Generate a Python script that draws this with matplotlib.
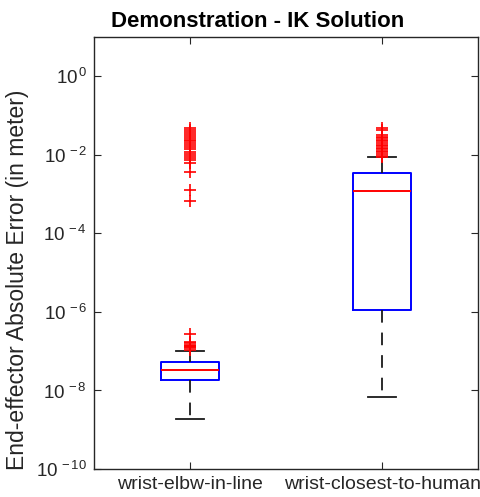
import matplotlib
matplotlib.use("Agg")
import matplotlib.pyplot as plt
from matplotlib.ticker import FixedLocator, FixedFormatter, NullLocator

plt.rcParams["font.family"] = ["Liberation Sans", "DejaVu Sans"]
plt.rcParams["mathtext.fontset"] = "custom"
plt.rcParams["mathtext.rm"] = "Liberation Sans"
plt.rcParams["mathtext.it"] = "Liberation Sans:italic"

# data (meters)
labels = ["wrist-elbw-in-line", "wrist-closest-to-human"]

elbw_stats = dict(whislo=1.9e-9, q1=1.8e-8, med=3.3e-8, q3=5.2e-8, whishi=1.02e-7)
elbw_fliers = [
    0.0479, 0.0417, 0.0372, 0.0339, 0.0302, 0.0269, 0.0240, 0.0219, 0.0200,
    0.0178, 0.0158, 0.0138, 0.0120, 0.0107, 0.00955, 0.00832, 0.00724,
    0.00603, 0.00363, 0.00126, 0.00066,
    2.75e-7, 1.70e-7, 1.58e-7, 1.48e-7, 1.38e-7, 1.32e-7, 1.26e-7, 1.20e-7, 1.10e-7,
]

human_stats = dict(whislo=6.8e-9, q1=1.12e-6, med=1.17e-3, q3=3.4e-3, whishi=8.7e-3)
human_fliers = [
    0.0479, 0.0427, 0.0316, 0.0288, 0.0263, 0.0240, 0.0219, 0.0200, 0.0182,
    0.0166, 0.0151, 0.0138, 0.0126, 0.0115, 0.0105, 0.0096, 0.0089,
]

yticks = [1e-10, 1e-8, 1e-6, 1e-4, 1e-2, 1e0]
ytick_exps = ["-10", "-8", "-6", "-4", "-2", "0"]

stats = []
for lab, st, fl in zip(labels, [elbw_stats, human_stats], [elbw_fliers, human_fliers]):
    d = dict(st)
    d["label"] = lab
    d["fliers"] = fl
    stats.append(d)

fig = plt.figure(figsize=(4.8, 4.97), dpi=100)
ax = fig.add_axes([0.196, 0.0563, 0.8, 0.8693])

ax.bxp(
    stats,
    positions=[1, 2],
    widths=0.3,
    showfliers=True,
    boxprops=dict(color="#0000ff", linewidth=1.4),
    medianprops=dict(color="#ff0000", linewidth=1.4),
    whiskerprops=dict(color="#1a1a1a", linewidth=1.3, linestyle=(0, (7, 5.5))),
    capprops=dict(color="#1a1a1a", linewidth=1.3),
    flierprops=dict(marker="+", markeredgecolor="#ff0000", markersize=9,
                    markeredgewidth=1.2, linestyle="none"),
)

ax.set_yscale("log")
ax.set_ylim(1e-10, 1e1)
ax.set_xlim(0.5, 2.5)
ax.yaxis.set_major_locator(FixedLocator(yticks))
ax.yaxis.set_major_formatter(FixedFormatter([r"$10^{\,%s}$" % e for e in ytick_exps]))
ax.yaxis.set_minor_locator(NullLocator())
ax.set_xticks([1, 2])
ax.set_xticklabels(labels)

for side in ["top", "bottom", "left", "right"]:
    ax.spines[side].set_color("#262626")
    ax.spines[side].set_linewidth(1.0)
ax.tick_params(axis="both", which="major", direction="in", length=5,
               top=True, right=True, color="#262626", labelcolor="#262626")
ax.tick_params(axis="y", labelsize=13.5, pad=5)
ax.tick_params(axis="x", labelsize=14, pad=5)

ax.set_ylabel("End-effector Absolute Error (in meter)", fontsize=16.5, color="#262626")
# reference label sits a little below the axes centre
ax.yaxis.set_label_coords(-0.17, 0.4375)
# the reference title sits left of the axes centre
ax.set_title("Demonstration - IK Solution", fontsize=16, fontweight="bold", pad=7, x=0.425)

fig.savefig("out.png", dpi=100)
